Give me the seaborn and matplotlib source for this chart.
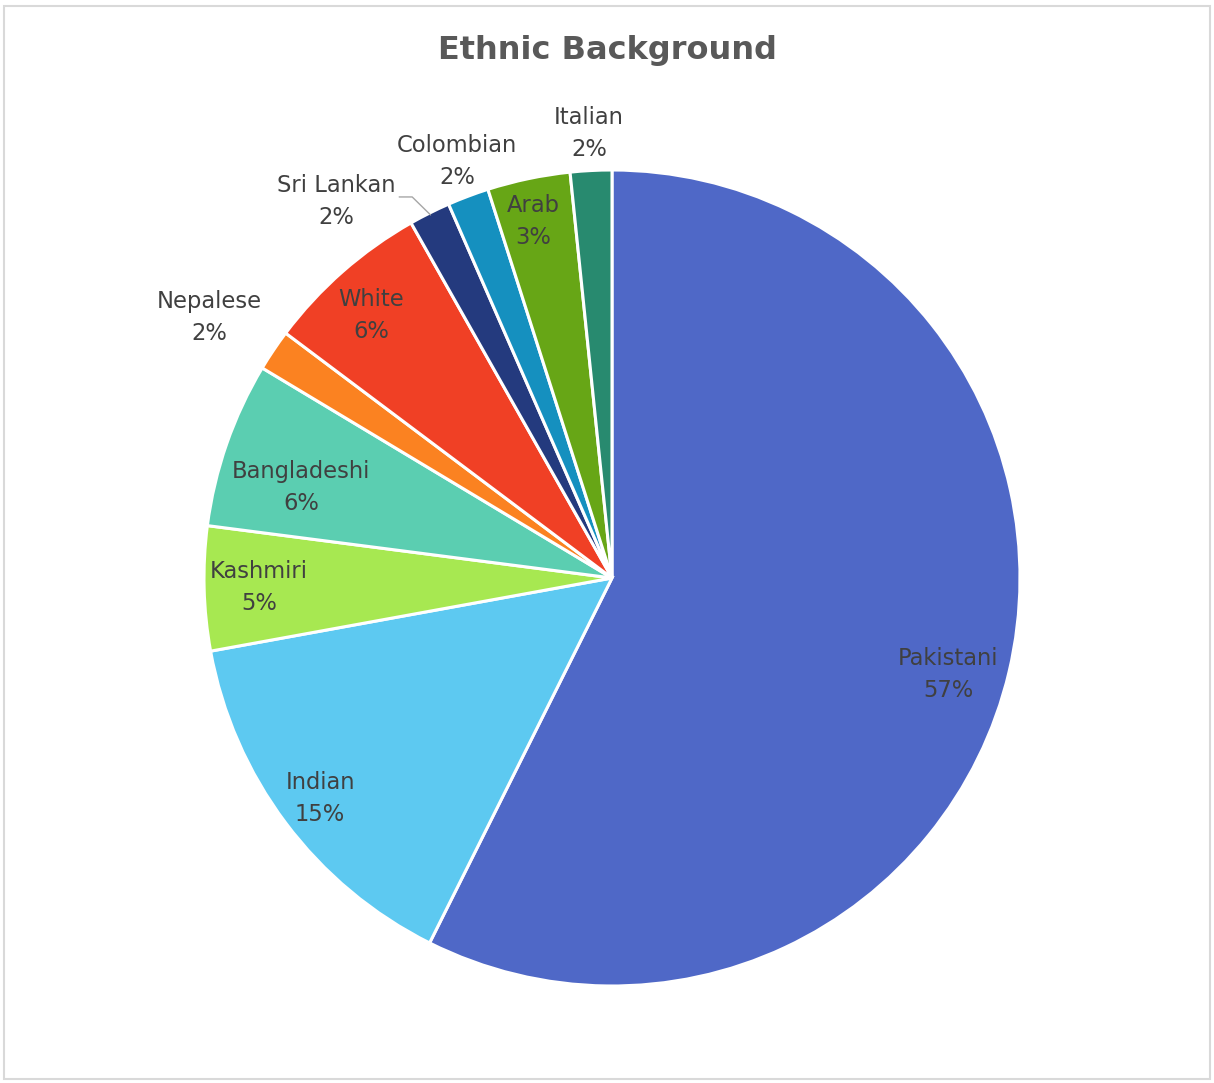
import numpy as np
import matplotlib
matplotlib.use("Agg")
import matplotlib.pyplot as plt
import matplotlib.patches as mpatches
import seaborn as sns

# ---- data ----
categories = ["Pakistani", "Indian", "Kashmiri", "Bangladeshi", "Nepalese",
              "White", "Sri Lankan", "Colombian", "Arab", "Italian"]
counts = [35, 9, 3, 4, 1, 4, 1, 1, 2, 1]
pct_labels = ["57%", "15%", "5%", "6%", "2%", "6%", "2%", "2%", "3%", "2%"]
colors = ["#4F68C7", "#5DC9F1", "#A7E851", "#5BCEB1", "#FB8221",
          "#F04025", "#243A7E", "#1590BF", "#67A616", "#288A6F"]

# label placement styles: radius (in pie radii), angle offset (deg, ccw)
label_r = [0.857, 0.897, 0.866, 0.794, 1.175, 0.874, 1.143, 1.09, 0.894, 1.09]
label_dang = [-2.8, 0.2, 0.1, 2.9, 1.0, 1.2, 9.7, -0.3, 0.7, 0]
leader = [False, False, False, False, False, False, True, False, False, False]

sns.set_theme(style="white")
plt.rcParams["font.family"] = ["DejaVu Sans"]

W, H = 1214, 1083
fig = plt.figure(figsize=(W / 100, H / 100), dpi=100)
fig.patch.set_facecolor("white")
fig.patches.append(mpatches.Rectangle((4 / W, 4 / H), 1206 / W, 1073 / H,
                                      transform=fig.transFigure, fill=False,
                                      edgecolor="#D9D9D9", linewidth=1.5))

cx, cy, R = 612, 578, 408
ax = fig.add_axes([(cx - R) / W, (H - cy - R) / H, 2 * R / W, 2 * R / H])

pal = sns.color_palette(colors)
wedges, _ = ax.pie(counts, colors=pal, startangle=90, counterclock=False,
                   radius=1.0, wedgeprops=dict(edgecolor="white", linewidth=2.2))
ax.set_xlim(-1, 1)
ax.set_ylim(-1, 1)
ax.set_aspect("equal")
ax.axis("off")

px = 1.0 / R  # one pixel in data units
txtcol = "#404040"
for w, name, pl, r, da, ld in zip(wedges, categories, pct_labels, label_r, label_dang, leader):
    mid = (w.theta1 + w.theta2) / 2.0
    ang = np.deg2rad(mid + da)
    x, y = r * np.cos(ang), r * np.sin(ang)
    ax.text(x, y, f"{name}\n{pl}", ha="center", va="center", fontsize=16.3,
            color=txtcol, linespacing=1.5)
    if ld:
        a0 = np.deg2rad(mid)
        ex, ey = np.cos(a0), np.sin(a0)
        x0, y0 = x + 63 * px, y + 5 * px
        x1 = x + 76 * px
        ax.plot([x0, x1, ex * 0.995], [y0, y0, ey * 0.995],
                color="#A6A6A6", linewidth=1.0, clip_on=False)

fig.text(0.5 + 0.5 / W, 1 - 51 / H, "Ethnic Background", ha="center", va="center",
         fontsize=23, fontweight="bold", color="#595959")

fig.savefig("out.png", dpi=100)
